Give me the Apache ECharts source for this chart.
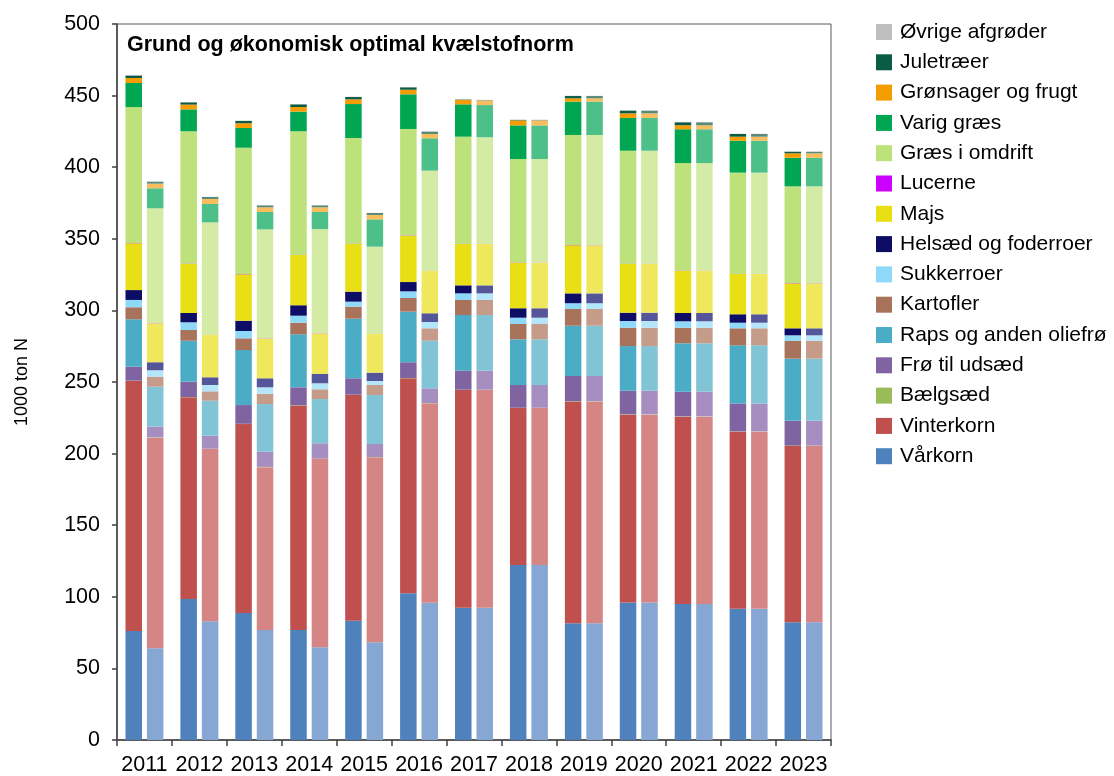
<!DOCTYPE html>
<html>
<head>
<meta charset="utf-8">
<script src="https://cdn.jsdelivr.net/npm/echarts@6/dist/echarts.min.js"></script>
<style>
html,body{margin:0;padding:0;background:#fff;}
#chart{width:1114px;height:776px;}
</style>
</head>
<body>
<div id="chart"></div>
<script>
const years = ['2011','2012','2013','2014','2015','2016','2017','2018','2019','2020','2021','2022','2023'];
const yTicks = [0,50,100,150,200,250,300,350,400,450,500];

// Grund norm (solid colours) and økonomisk optimal norm (light colours), 1000 ton N
const vaarkornGrund   = [76.2, 98.5, 88.7, 76.8, 83.3, 102.4, 92.4, 122.2, 81.5, 96.1, 95.0, 91.7, 82.2];
const vaarkornOpt     = [64.0, 82.9, 76.8, 64.7, 68.2, 95.9, 92.4, 122.2, 81.5, 96.1, 95.0, 91.7, 82.2];
const vinterkornGrund = [174.5, 140.8, 131.9, 156.8, 157.6, 150.2, 152.0, 109.6, 154.9, 131.1, 130.8, 123.6, 123.2];
const vinterkornOpt   = [147.1, 120.3, 113.7, 131.5, 129.2, 139.2, 152.0, 109.6, 154.9, 131.1, 130.8, 123.6, 123.2];
const baelgsaedGrund  = [0.2, 0.2, 0.2, 0.2, 0.2, 0.2, 0.2, 0.2, 0.2, 0.2, 0.2, 0.2, 0.2];
const baelgsaedOpt    = [0.2, 0.2, 0.2, 0.2, 0.2, 0.2, 0.2, 0.2, 0.2, 0.2, 0.2, 0.2, 0.2];
const froeGrund       = [9.8, 10.7, 13.1, 12.5, 11.5, 11.0, 13.3, 15.9, 17.6, 16.5, 17.2, 19.5, 17.3];
const froeOpt         = [7.5, 9.1, 10.6, 10.8, 9.1, 10.3, 13.3, 15.9, 17.6, 16.5, 17.2, 19.5, 17.3];
const rapsGrund       = [33.1, 28.6, 38.4, 37.0, 41.6, 35.3, 38.9, 31.9, 35.1, 31.2, 33.8, 40.6, 43.4];
const rapsOpt         = [27.9, 24.4, 33.3, 30.9, 34.2, 33.2, 38.9, 31.9, 35.1, 31.2, 33.8, 40.6, 43.4];
const kartoflerGrund  = [8.4, 7.5, 8.2, 8.1, 8.4, 9.6, 10.5, 10.7, 11.7, 12.8, 10.9, 11.9, 12.5];
const kartoflerOpt    = [7.0, 6.6, 7.2, 6.8, 7.0, 8.7, 10.5, 10.7, 11.7, 12.8, 10.9, 11.9, 12.5];
const sukkerroerGrund = [5.1, 5.4, 5.1, 4.9, 3.5, 4.6, 4.6, 4.4, 4.0, 4.7, 4.5, 3.9, 3.8];
const sukkerroerOpt   = [4.5, 4.4, 4.5, 4.2, 2.8, 4.4, 4.6, 4.4, 4.0, 4.7, 4.5, 3.9, 3.8];
const helsaedGrund    = [6.9, 6.5, 7.2, 7.3, 7.0, 6.5, 5.6, 6.6, 6.9, 5.8, 5.8, 5.9, 4.9];
const helsaedOpt      = [5.6, 5.4, 6.3, 6.5, 5.8, 6.1, 5.6, 6.6, 6.9, 5.8, 5.8, 5.9, 4.9];
const majsGrund       = [32.7, 34.4, 32.4, 35.1, 33.3, 32.4, 28.9, 31.8, 33.6, 34.0, 29.5, 28.1, 31.4];
const majsOpt         = [27.2, 29.5, 27.9, 28.4, 27.0, 29.5, 28.9, 31.8, 33.6, 34.0, 29.5, 28.1, 31.4];
const lucerneGrund    = [0.2, 0.2, 0.2, 0.2, 0.2, 0.2, 0.2, 0.2, 0.2, 0.2, 0.2, 0.2, 0.2];
const lucerneOpt      = [0.2, 0.2, 0.2, 0.2, 0.2, 0.2, 0.2, 0.2, 0.2, 0.2, 0.2, 0.2, 0.2];
const graesGrund      = [94.9, 92.3, 88.2, 86.2, 73.8, 74.3, 74.7, 72.2, 76.8, 78.9, 75.0, 70.6, 67.5];
const graesOpt        = [80.1, 78.5, 75.9, 72.6, 60.8, 69.9, 74.3, 72.2, 76.8, 78.9, 75.0, 70.6, 67.5];
const varigGrund      = [16.8, 15.3, 13.8, 13.7, 23.7, 24.2, 22.6, 23.5, 23.3, 22.9, 23.6, 22.3, 20.0];
const varigOpt        = [14.0, 12.8, 12.1, 11.9, 19.1, 22.6, 22.5, 23.5, 23.3, 22.9, 23.6, 22.3, 20.0];
const groensagerGrund = [3.5, 3.3, 3.3, 3.2, 3.3, 3.2, 3.0, 3.5, 2.3, 3.2, 2.8, 2.8, 3.1];
const groensagerOpt   = [3.2, 3.5, 3.3, 3.3, 3.0, 3.0, 3.2, 3.5, 2.3, 3.2, 2.8, 2.8, 3.1];
const juletraeerGrund = [1.7, 1.6, 1.6, 1.9, 1.6, 1.7, 0.3, 0.3, 1.6, 1.9, 2.1, 1.9, 1.1];
const juletraeerOpt   = [1.4, 1.4, 1.4, 1.4, 1.4, 1.7, 0.3, 0.3, 1.6, 1.9, 2.1, 1.9, 1.1];
const oevrigeGrund    = [0.2, 0.2, 0.2, 0.2, 0.2, 0.2, 0.2, 0.2, 0.2, 0.2, 0.2, 0.2, 0.2];
const oevrigeOpt      = [0.2, 0.2, 0.2, 0.2, 0.2, 0.2, 0.2, 0.2, 0.2, 0.2, 0.2, 0.2, 0.2];

// stacking order bottom -> top
const crops = [
  {name:'Vårkorn',              g:vaarkornGrund,   o:vaarkornOpt,   cg:'#4F81BD', co:'#86A7D3'},
  {name:'Vinterkorn',           g:vinterkornGrund, o:vinterkornOpt, cg:'#C0504D', co:'#D48584'},
  {name:'Bælgsæd',              g:baelgsaedGrund,  o:baelgsaedOpt,  cg:'#9BBB59', co:'#BAD08C'},
  {name:'Frø til udsæd',        g:froeGrund,       o:froeOpt,       cg:'#8064A2', co:'#A68FC0'},
  {name:'Raps og anden oliefrø',g:rapsGrund,       o:rapsOpt,       cg:'#4BACC6', co:'#81C4D6'},
  {name:'Kartofler',            g:kartoflerGrund,  o:kartoflerOpt,  cg:'#A9735B', co:'#C59C8A'},
  {name:'Sukkerroer',           g:sukkerroerGrund, o:sukkerroerOpt, cg:'#8ED8F8', co:'#B3E6FA'},
  {name:'Helsæd og foderroer',  g:helsaedGrund,    o:helsaedOpt,    cg:'#0D0D66', co:'#55559A'},
  {name:'Majs',                 g:majsGrund,       o:majsOpt,       cg:'#E8E014', co:'#EFE85C'},
  {name:'Lucerne',              g:lucerneGrund,    o:lucerneOpt,    cg:'#CC00FF', co:'#DD66FF'},
  {name:'Græs i omdrift',       g:graesGrund,      o:graesOpt,      cg:'#BDE27B', co:'#D3EBA4'},
  {name:'Varig græs',           g:varigGrund,      o:varigOpt,      cg:'#00A651', co:'#4DBF89'},
  {name:'Grønsager og frugt',   g:groensagerGrund, o:groensagerOpt, cg:'#F59C00', co:'#F8BD5C'},
  {name:'Juletræer',            g:juletraeerGrund, o:juletraeerOpt, cg:'#0C5C45', co:'#5A8A7A'},
  {name:'Øvrige afgrøder',      g:oevrigeGrund,    o:oevrigeOpt,    cg:'#BFBFBF', co:'#D6D6D6'}
];

const FONT = 'Liberation Sans, Arial, sans-serif';
const series = [];
crops.forEach(c => series.push({
  name: c.name, type:'bar', stack:'grund', data:c.g, barWidth:16.5, barGap:'30%',
  itemStyle:{color:c.cg}, emphasis:{disabled:true}
}));
crops.forEach(c => series.push({
  name: c.name + ' (økonomisk optimal)', type:'bar', stack:'opt', data:c.o, barWidth:16.5, barGap:'30%',
  itemStyle:{color:c.co}, emphasis:{disabled:true}
}));

const chart = echarts.init(document.getElementById('chart'), null, {renderer:'canvas'});
chart.setOption({
  animation:false,
  backgroundColor:'#fff',
  textStyle:{fontFamily:FONT},
  title:{
    text:'Grund og økonomisk optimal kvælstofnorm',
    left:122, top:29,
    textStyle:{fontFamily:FONT, fontSize:21.5, fontWeight:'bold', color:'#000'}
  },
  legend:{
    orient:'vertical', left:876, top:21.5, padding:0,
    itemWidth:16, itemHeight:16, itemGap:9.3, icon:'rect',
    data: crops.map(c => c.name).reverse(),
    textStyle:{fontFamily:FONT, fontSize:21, color:'#000', padding:[0,0,0,3]},
    selectedMode:false
  },
  grid:{left:117, right:283, top:24, bottom:36, show:true, borderColor:'#595959', borderWidth:1, backgroundColor:'transparent'},
  xAxis:{
    type:'category', data:years, boundaryGap:true,
    axisLine:{lineStyle:{color:'#404040', width:1.5}},
    axisTick:{show:true, length:6, lineStyle:{color:'#404040', width:1.5}},
    axisLabel:{fontFamily:FONT, fontSize:21.5, color:'#000', margin:14, interval:0}
  },
  yAxis:{
    type:'value', min:0, max:500, interval:50,
    name:'1000 ton N', nameLocation:'middle', nameRotate:90, nameGap:86,
    nameTextStyle:{fontFamily:FONT, fontSize:18, color:'#000'},
    axisLine:{show:true, lineStyle:{color:'#404040', width:1.5}},
    axisTick:{show:true, length:5, lineStyle:{color:'#404040', width:1.5}},
    axisLabel:{fontFamily:FONT, fontSize:21.5, color:'#000', margin:17,
      formatter: v => yTicks.indexOf(v) >= 0 ? String(v) : ''},
    splitLine:{show:false}
  },
  series: series
});
</script>
</body>
</html>
